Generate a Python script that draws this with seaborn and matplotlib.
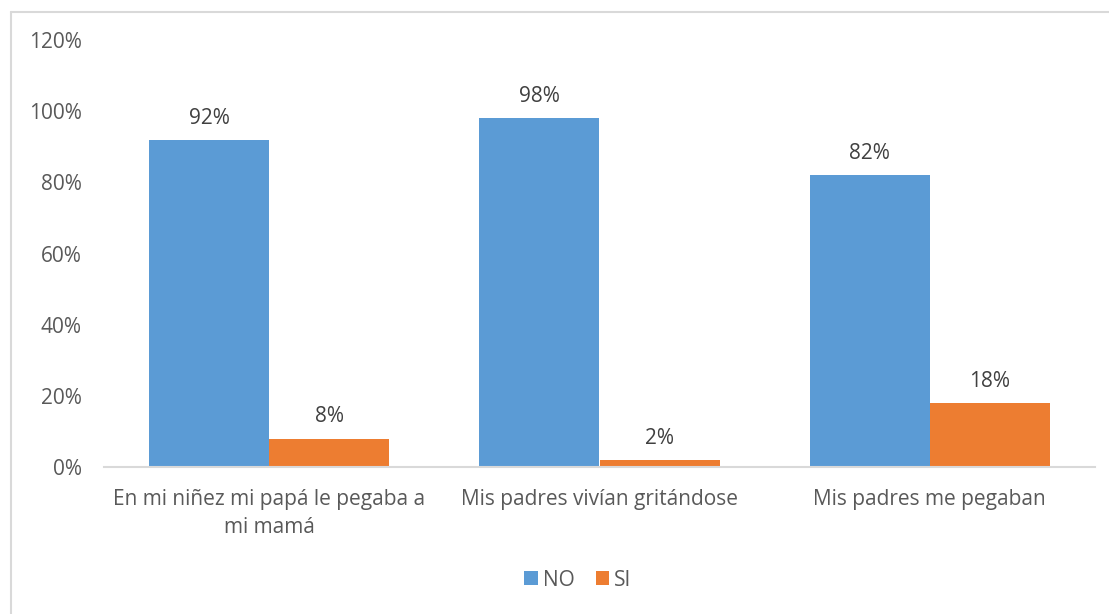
import pandas as pd
import matplotlib.pyplot as plt
from matplotlib.lines import Line2D
import seaborn as sns

# Data
categories = ["En mi niñez mi papá le pegaba a\nmi mamá",
              "Mis padres vivían gritándose",
              "Mis padres me pegaban"]
no_values = [92, 98, 82]
si_values = [8, 2, 18]
series_names = ["NO", "SI"]
colors = ["#5B9BD5", "#ED7D31"]
y_ticks = [0, 20, 40, 60, 80, 100, 120]

TEXT = "#595959"

df = pd.DataFrame({
    "categoria": categories * 2,
    "serie": [series_names[0]] * 3 + [series_names[1]] * 3,
    "valor": no_values + si_values,
})

sns.set_theme(style="white")
plt.rcParams['font.family'] = ['Open Sans', 'DejaVu Sans']

fig = plt.figure(figsize=(11.09, 6.14), dpi=100)
ax = fig.add_axes([104 / 1109, 1 - 467 / 614, (1095 - 104) / 1109, (467 - 40) / 614])

sns.barplot(data=df, x="categoria", y="valor", hue="serie",
            order=categories, hue_order=series_names,
            palette=colors, width=0.727, saturation=1,
            edgecolor="none", ax=ax)

for container in ax.containers:
    ax.bar_label(container, fmt="%d%%", padding=8, fontsize=15, color="#404040")

ax.set_ylim(0, 120)
ax.set_yticks(y_ticks)
ax.set_yticklabels([f"{t}%" for t in y_ticks], fontsize=15, color=TEXT)
ax.tick_params(axis="x", labelsize=15, labelcolor=TEXT, length=0, pad=16)
ax.tick_params(axis="y", length=0, pad=16)
for lbl in ax.get_xticklabels():
    lbl.set_linespacing(1.45)
    lbl.set_multialignment("center")
ax.set_xlabel("")
ax.set_ylabel("")

for side in ["top", "right", "left"]:
    ax.spines[side].set_visible(False)
ax.spines["bottom"].set_color("#D9D9D9")
ax.spines["bottom"].set_linewidth(1.5)

ax.legend(loc="center", bbox_to_anchor=(578 / 1109, 1 - 580 / 614),
          bbox_transform=fig.transFigure, ncol=2, frameon=False,
          fontsize=15, handlelength=0.65, handleheight=0.65,
          handletextpad=0.25, columnspacing=1.0, labelcolor=TEXT)

# chart border (only left and top visible in the crop)
fig.add_artist(Line2D([11 / 1109, 11 / 1109], [0, 1 - 12 / 614],
                      transform=fig.transFigure, color="#D9D9D9", lw=1.5))
fig.add_artist(Line2D([11 / 1109, 1], [1 - 12 / 614, 1 - 12 / 614],
                      transform=fig.transFigure, color="#D9D9D9", lw=1.5))

fig.savefig("out.png", dpi=100)
